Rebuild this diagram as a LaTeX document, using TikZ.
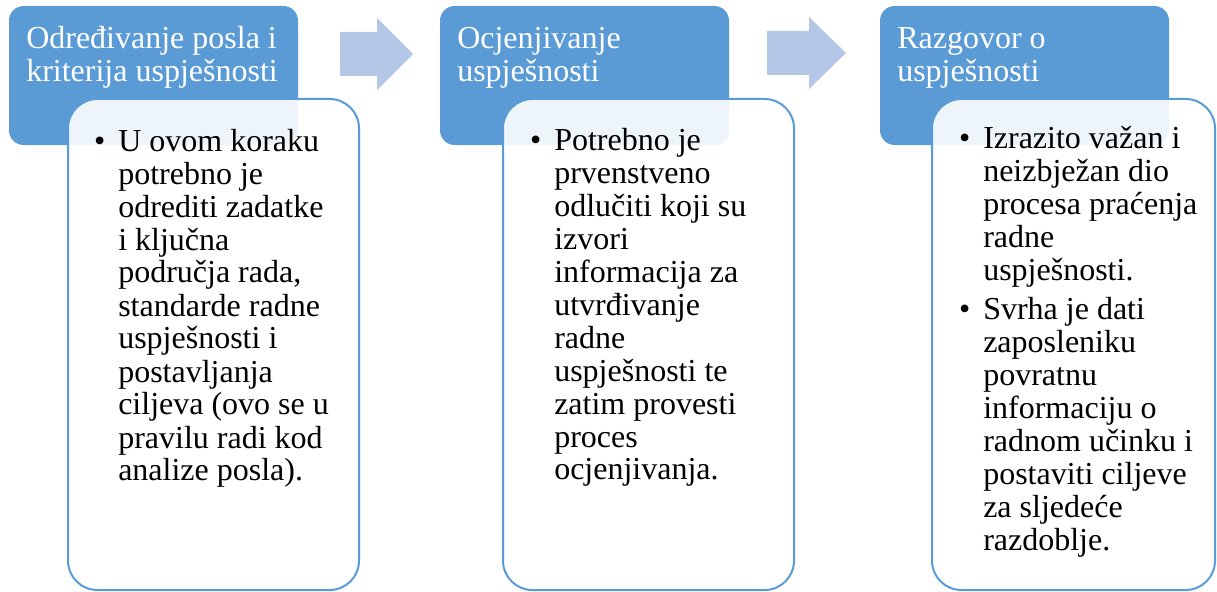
\documentclass[tikz,border=0pt]{standalone}
\usepackage{fontspec}
\setmainfont{Liberation Serif}
\definecolor{hblue}{HTML}{5B9BD5}
\definecolor{ablue}{HTML}{B4C7E7}
\tikzset{
  hdr/.style={fill=hblue, draw=none, rounded corners=11pt, minimum width=216.75pt, minimum height=104.25pt, anchor=north west, inner sep=0pt, outer sep=0pt},
  body/.style={fill=white, fill opacity=0.9, draw=hblue, line width=1.5pt, rounded corners=22pt, minimum height=368.25pt, anchor=north west, inner sep=0pt, outer sep=0pt},
  htext/.style={text=white, anchor=base west, inner sep=0pt, font=\fontsize{24}{24.75}\selectfont},
  btext/.style={text=black, anchor=base west, inner sep=0pt, font=\fontsize{24}{24.75}\selectfont},
  arr/.style={fill=ablue, draw=none}
}
\newcommand{\bul}{\llap{\textbullet\hspace{9.7pt}}}
\begin{document}
\begin{tikzpicture}[x=0.75pt, y=-0.75pt]
\useasboundingbox (0,0) rectangle (1217,592);
% headers
\node[hdr] (h1) at (9,6) {};
\node[hdr] (h2) at (440,6) {};
\node[hdr] (h3) at (880,6) {};
% arrows
\fill[arr] (340,32) -- (377,32) -- (377,18) -- (413,54) -- (377,90) -- (377,76) -- (340,76) -- cycle;
\fill[arr] (767,31) -- (809,31) -- (809,17) -- (846,53) -- (809,89) -- (809,75) -- (767,75) -- cycle;
% bodies
\node[body, minimum width=218.25pt] (b1) at (68,99) {};
\node[body, minimum width=218.25pt] (b2) at (503,99) {};
\node[body, minimum width=212.25pt] (b3) at (932,99) {};
% header texts
\node[htext] (ht1) at (26,49) {\begin{tabular}[t]{@{}l@{}}Određivanje posla i\\kriterija uspješnosti\end{tabular}};
\node[htext] (ht2) at (457,49) {\begin{tabular}[t]{@{}l@{}}Ocjenjivanje\\uspješnosti\end{tabular}};
\node[htext] (ht3) at (897,49) {\begin{tabular}[t]{@{}l@{}}Razgovor o\\uspješnosti\end{tabular}};
% body texts
\node[btext] (bt1) at (118,151) {\begin{tabular}[t]{@{}l@{}}\bul U ovom koraku\\potrebno je\\odrediti zadatke\\i ključna\\područja rada,\\standarde radne\\uspješnosti i\\postavljanja\\ciljeva (ovo se u\\pravilu radi kod\\analize posla).\end{tabular}};
\node[btext] (bt2) at (554,150) {\begin{tabular}[t]{@{}l@{}}\bul Potrebno je\\prvenstveno\\odlučiti koji su\\izvori\\informacija za\\utvrđivanje\\radne\\uspješnosti te\\zatim provesti\\proces\\ocjenjivanja.\end{tabular}};
\node[btext] (bt3) at (983,148) {\begin{tabular}[t]{@{}l@{}}\bul Izrazito važan i\\neizbježan dio\\procesa praćenja\\radne\\uspješnosti.\\[4.5pt]\bul Svrha je dati\\zaposleniku\\povratnu\\informaciju o\\radnom učinku i\\postaviti ciljeve\\za sljedeće\\razdoblje.\end{tabular}};
\end{tikzpicture}
\end{document}
